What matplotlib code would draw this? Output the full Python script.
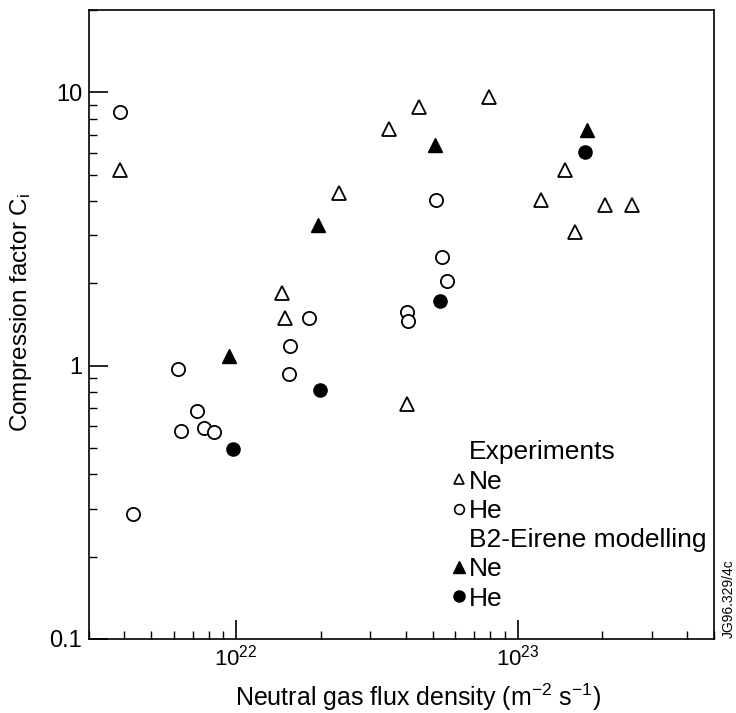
import matplotlib
matplotlib.use('Agg')
from matplotlib import pyplot as plt
from matplotlib.lines import Line2D
from matplotlib.ticker import LogLocator, NullFormatter, FixedLocator, FixedFormatter

plt.rcParams['font.family'] = ['Liberation Sans', 'DejaVu Sans']
plt.rcParams['mathtext.fontset'] = 'custom'
plt.rcParams['mathtext.rm'] = 'Liberation Sans'
plt.rcParams['mathtext.it'] = 'Liberation Sans'

# experiments, Ne (open triangles)
exp_ne_flux = [3.85e21, 1.45e22, 1.49e22, 2.31e22, 3.5e22, 4.47e22, 7.89e22,
               4.04e22, 1.21e23, 1.47e23, 1.6e23, 2.05e23, 2.55e23]
exp_ne_c = [5.19, 1.84, 1.49, 4.27, 7.32, 8.86, 9.64,
            0.726, 4.03, 5.19, 3.08, 3.86, 3.86]

# experiments, He (open circles)
exp_he_flux = [3.87e21, 4.3e21, 6.19e21, 6.35e21, 7.24e21, 7.69e21, 8.35e21,
               1.54e22, 1.55e22, 1.81e22, 4.04e22, 4.09e22, 5.15e22, 5.37e22, 5.6e22]
exp_he_c = [8.49, 0.287, 0.969, 0.576, 0.68, 0.593, 0.571,
            0.929, 1.18, 1.49, 1.57, 1.46, 4.03, 2.5, 2.04]

# B2-Eirene modelling, Ne (filled triangles)
mod_ne_flux = [9.44e21, 1.95e22, 5.09e22, 1.76e23]
mod_ne_c = [1.08, 3.27, 6.41, 7.28]

# B2-Eirene modelling, He (filled circles)
mod_he_flux = [9.73e21, 1.99e22, 5.3e22, 1.73e23]
mod_he_c = [0.497, 0.812, 1.72, 6.06]

fig = plt.figure(figsize=(7.36, 7.13), dpi=100)
ax = fig.add_axes([0.121, 0.1038, 0.8495, 0.8822])

ms = 10
ax.plot(exp_ne_flux, exp_ne_c, '^', mfc='white', mec='black', mew=1.3, ms=ms, ls='none')
ax.plot(exp_he_flux, exp_he_c, 'o', mfc='white', mec='black', mew=1.3, ms=ms - 0.5, ls='none')
ax.plot(mod_ne_flux, mod_ne_c, '^', mfc='black', mec='black', ms=ms, ls='none')
ax.plot(mod_he_flux, mod_he_c, 'o', mfc='black', mec='black', ms=ms - 0.5, ls='none')

ax.set_xscale('log')
ax.set_yscale('log')
ax.set_xlim(3e21, 5e23)
ax.set_ylim(0.1, 20)

#axis ticks: inward, only on left and bottom
ax.xaxis.set_major_locator(FixedLocator([1e22, 1e23]))
ax.xaxis.set_major_formatter(FixedFormatter([r'$10^{22}$', r'$10^{23}$']))
ax.xaxis.set_minor_locator(LogLocator(base=10, subs=range(2, 10)))
ax.xaxis.set_minor_formatter(NullFormatter())
ax.yaxis.set_major_locator(FixedLocator([0.1, 1, 10]))
ax.yaxis.set_major_formatter(FixedFormatter(['0.1', '1', '10']))
ax.yaxis.set_minor_locator(LogLocator(base=10, subs=range(2, 10)))
ax.yaxis.set_minor_formatter(NullFormatter())
ax.tick_params(which='major', direction='in', length=14, width=1.2, labelsize=17, pad=5)
ax.tick_params(which='minor', direction='in', length=6, width=1.0)
ax.tick_params(axis='x', which='major', labelsize=16, pad=4)
for s in ax.spines.values():
    s.set_linewidth(1.2)

ax.set_xlabel(r'Neutral gas flux density (m$^{-2}$ s$^{-1}$)', fontsize=18)
ax.xaxis.set_label_coords(0.526, -0.067)
ax.set_ylabel(r'Compression factor C$_{\rm i}$', fontsize=17.5)
ax.yaxis.set_label_coords(-0.088, 0.52)

#legend with headings as blank entries
blank = Line2D([], [], ls='none', marker='None')
handles = [blank,
           Line2D([], [], ls='none', marker='^', mfc='white', mec='black', mew=1.2, ms=7.5),
           Line2D([], [], ls='none', marker='o', mfc='white', mec='black', mew=1.2, ms=7),
           blank,
           Line2D([], [], ls='none', marker='^', mfc='black', mec='black', ms=8),
           Line2D([], [], ls='none', marker='o', mfc='black', mec='black', ms=8)]
labels = ['Experiments', 'Ne', 'He', 'B2-Eirene modelling', 'Ne', 'He']
ax.legend(handles, labels, loc='lower left', bbox_to_anchor=(0.585, 0.045),
          frameon=False, fontsize=19, handlelength=0.33, handletextpad=0.22,
          labelspacing=0.2, borderpad=0, borderaxespad=0)

fig.text(0.99, 0.105, 'JG96.329/4c', rotation=90, fontsize=10, va='bottom', ha='center')

fig.savefig('out.png', dpi=100)
